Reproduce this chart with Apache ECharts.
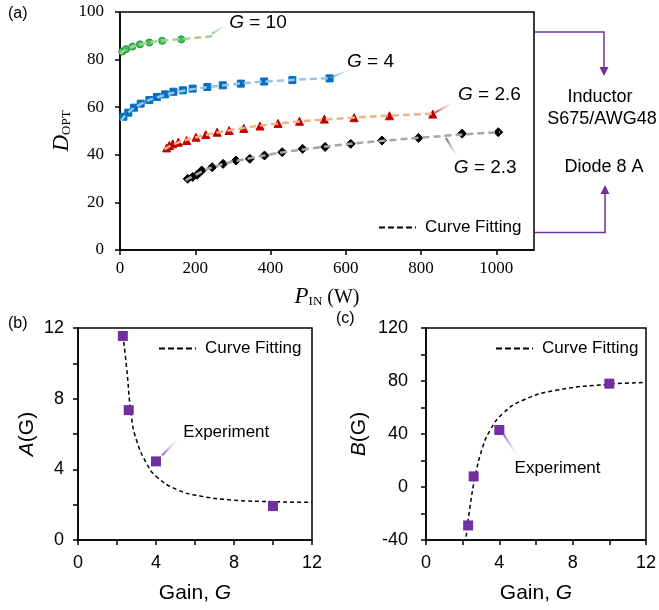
<!DOCTYPE html>
<html>
<head>
<meta charset="utf-8">
<script src="https://cdn.jsdelivr.net/npm/echarts@6/dist/echarts.min.js"></script>
<style>
html, body { margin: 0; padding: 0; background: #fff; }
#chart { width: 659px; height: 610px; }
</style>
</head>
<body>
<div id="chart"></div>
<script>
// (a) measured points [P_IN (W), D_OPT]
const g10Points = [[6, 83.4], [16, 84.4], [33, 85.5], [53, 86.4], [78, 87.2], [112, 87.9], [163, 88.5]];
const g4Points = [[9, 56.0], [22, 57.7], [37, 59.8], [55, 61.5], [78, 63.0], [98, 64.3], [120, 65.4], [142, 66.5],
  [167, 67.1], [193, 67.8], [232, 68.5], [273, 69.2], [321, 69.9], [383, 70.8], [458, 71.4], [557, 72.1]];
const g26Points = [[124, 42.9], [131, 43.9], [140, 44.6], [155, 45.3], [177, 46.0], [202, 47.4], [228, 48.5], [258, 49.5],
  [290, 50.2], [329, 51.1], [372, 52.1], [420, 53.2], [477, 54.1], [543, 55.0], [622, 55.6], [716, 56.4], [831, 57.1]];
const g23Points = [[180, 29.9], [193, 30.7], [205, 31.6], [217, 33.4], [245, 34.8], [274, 36.2], [308, 37.6], [345, 38.3],
  [384, 39.7], [431, 41.1], [485, 42.5], [545, 43.3], [613, 44.6], [696, 46.0], [793, 47.1], [909, 48.9], [1005, 49.5]];

// (a) fitted curves
const g10Fit = [[0, 82.5], [20, 84.6], [60, 86.6], [110, 87.9], [165, 88.6], [245, 89.8]];
const g4Fit = [[3, 54.2], [20, 57.5], [55, 61.3], [100, 64.2], [170, 66.9], [270, 69.1], [400, 70.9], [557, 72.2]];
const g26Fit = [[118, 42.4], [150, 44.9], [200, 47.3], [300, 50.5], [420, 53.1], [600, 55.4], [835, 57.3]];
const g23Fit = [[175, 29.3], [200, 31.5], [250, 35], [350, 38.7], [500, 42.5], [700, 45.9], [1010, 49.6]];

// (a) callouts
const gainLabels = ['10', '4', '2.6', '2.3'];
const gainLabelAt = [[290, 95.4], [603, 79.3], [898, 65.4], [887, 34.5]];
const gainLeaders = [[[244, 90.8], [279, 94.4]], [[557, 72.2], [611, 75.9]], [[837, 57.7], [881, 61.6]], [[866, 47.1], [895, 39.4]]];

// (b), (c)
const gains = [2.3, 2.6, 4, 10];
const aValues = [11.55, 7.35, 4.45, 1.92];
const bValues = [-29, 8, 43, 78];
const aFit = [[2.3, 11.6], [2.49, 9.8], [2.74, 6.97], [3.0, 5.65], [3.52, 4.33], [4.03, 3.58], [5.06, 2.86],
  [6.26, 2.49], [7.97, 2.26], [10, 2.17], [12, 2.13]];
const bFit = [[2.19, -37.5], [2.4, -14.9], [2.68, 7.7], [3.04, 27.8], [3.5, 42.9], [4.2, 55.5], [5.29, 65.5],
  [7.1, 73], [10.03, 77.6], [12, 78.8]];
const aExpLabel = [5.4, 6.07];
const aExpLeader = [[4.32, 4.8], [5.06, 5.65]];
const bExpLabel = [4.83, 14.0];
const bExpLeader = [[4.2, 40.4], [4.93, 24.8]];

const SERIF = 'Liberation Serif';
const SANS = 'Liberation Sans';
const PURPLE = '#7030a0';

const chart = echarts.init(document.getElementById('chart'));

function fade(color, dir) {
  // dir: 'up' = strong at lower-left, 'down' = strong at upper-left
  const c = dir === 'up' ? [0, 1, 1, 0] : [0, 0, 1, 1];
  return new echarts.graphic.LinearGradient(c[0], c[1], c[2], c[3], [
    { offset: 0, color: color },
    { offset: 1, color: 'rgba(255,255,255,0.2)' }
  ]);
}

function leader(idx, pts, color, dir) {
  return {
    type: 'line', xAxisIndex: idx, yAxisIndex: idx, data: pts, symbol: 'none', silent: true,
    lineStyle: { width: 2, color: fade(color, dir) }, z: 4
  };
}

function textAnchor(idx, pos, text, size) {
  return {
    type: 'scatter', xAxisIndex: idx, yAxisIndex: idx, symbolSize: 0, silent: true,
    data: [{ value: pos, name: text }],
    itemStyle: { opacity: 1 },
    label: {
      show: true, position: 'right', distance: 0, formatter: '{b}', color: '#000', opacity: 1,
      fontFamily: SANS, fontSize: size,
      rich: { i: { fontFamily: SANS, fontSize: size, fontStyle: 'italic', color: '#000' } }
    }
  };
}

const pointSets = [g10Points, g4Points, g26Points, g23Points];
const fitSets = [g10Fit, g4Fit, g26Fit, g23Fit];
const markStyle = [
  { symbol: 'circle', size: 7, color: '#4cbb5c', border: '#0c9a36' },
  { symbol: 'rect', size: 7, color: '#0070c0', border: '#0070c0' },
  { symbol: 'triangle', size: 8, color: '#c00000', border: '#c00000' },
  { symbol: 'diamond', size: 9, color: '#000', border: '#000' }
];
const fitColors = ['#a9d18e', '#9dc3e6', '#f4b183', '#a6a6a6'];
const leaderColors = ['#5cb85c', '#2e75b6', '#c00000', '#404040'];

const series = [];
pointSets.forEach((pts, i) => {
  const m = markStyle[i];
  series.push({
    type: 'scatter', xAxisIndex: 0, yAxisIndex: 0, data: pts, symbol: m.symbol, symbolSize: m.size,
    itemStyle: { color: m.color, borderColor: m.border, borderWidth: 1, opacity: 1 }, z: 2
  });
});
fitSets.forEach((pts, i) => {
  series.push({
    type: 'line', xAxisIndex: 0, yAxisIndex: 0, data: pts, smooth: 0.5, symbol: 'none',
    lineStyle: { color: fitColors[i], width: 2.5, type: [7, 4] }, z: 3, silent: true
  });
});
gainLeaders.forEach((pts, i) => {
  series.push(leader(0, pts, leaderColors[i], i === 3 ? 'down' : 'up'));
  series.push(textAnchor(0, gainLabelAt[i], '{i|G} = ' + gainLabels[i], 19));
});
// legend entry for (a)
series.push({
  type: 'line', name: 'Curve Fitting', xAxisIndex: 0, yAxisIndex: 0, data: [], symbol: 'none',
  lineStyle: { color: '#000', width: 2, type: [6, 3] }
});

// (b)
series.push({
  type: 'line', name: 'Curve Fitting', xAxisIndex: 1, yAxisIndex: 1, data: aFit, smooth: 0.5,
  symbol: 'none', lineStyle: { color: '#000', width: 1.5, type: [4, 3] }, z: 2
});
series.push({
  type: 'scatter', xAxisIndex: 1, yAxisIndex: 1, data: gains.map((g, i) => [g, aValues[i]]),
  symbol: 'rect', symbolSize: 10, itemStyle: { color: PURPLE, opacity: 1 }, z: 3
});
series.push(leader(1, aExpLeader, PURPLE, 'up'));
series.push(textAnchor(1, aExpLabel, 'Experiment', 17));

// (c)
series.push({
  type: 'line', name: 'Curve Fitting', xAxisIndex: 2, yAxisIndex: 2, data: bFit, smooth: 0.5,
  symbol: 'none', lineStyle: { color: '#000', width: 1.5, type: [4, 3] }, z: 2
});
series.push({
  type: 'scatter', xAxisIndex: 2, yAxisIndex: 2, data: gains.map((g, i) => [g, bValues[i]]),
  symbol: 'rect', symbolSize: 10, itemStyle: { color: PURPLE, opacity: 1 }, z: 3
});
series.push(leader(2, bExpLeader, PURPLE, 'down'));
series.push(textAnchor(2, bExpLabel, 'Experiment', 17));

const axisLine = { show: true, onZero: false, lineStyle: { color: '#000', width: 1.5 } };
const tick = { show: true, length: 5, lineStyle: { color: '#000', width: 1.5 } };
const minor = { show: true, splitNumber: 2, length: 5, lineStyle: { color: '#000', width: 1.5 } };
const plain = v => String(v);
const serifLabel = { color: '#000', fontFamily: SERIF, fontSize: 17, formatter: plain };
const sansLabel = { color: '#000', fontFamily: SANS, fontSize: 18, formatter: plain };
const gainName = {
  name: 'Gain, {i|G}', nameLocation: 'middle', nameGap: 43,
  nameTextStyle: { color: '#000', fontFamily: SANS, fontSize: 21, rich: { i: { fontFamily: SANS, fontSize: 21, fontStyle: 'italic', color: '#000' } } }
};
const subRich = {
  i: { fontFamily: SERIF, fontStyle: 'italic', fontSize: 23, lineHeight: 26, verticalAlign: 'bottom', color: '#000' },
  s: { fontFamily: SERIF, fontSize: 13, lineHeight: 14, verticalAlign: 'bottom', color: '#000' },
  n: { fontFamily: SERIF, fontSize: 20, lineHeight: 26, verticalAlign: 'bottom', color: '#000' }
};

const option = {
  backgroundColor: '#fff',
  animation: false,
  grid: [
    { left: 120, right: 125, top: 12, bottom: 360, show: true, borderColor: '#000', borderWidth: 1.5 },
    { left: 78, right: 347, top: 328, bottom: 70, show: true, borderColor: '#000', borderWidth: 1.5 },
    { left: 426, right: 12, top: 328, bottom: 70, show: true, borderColor: '#000', borderWidth: 1.5 }
  ],
  xAxis: [
    {
      gridIndex: 0, type: 'value', min: 0, max: 1100, interval: 200,
      axisLine, axisTick: tick, splitLine: { show: false },
      axisLabel: Object.assign({ margin: 10, showMaxLabel: false }, serifLabel),
      name: '{i|P}{s|IN}{n| (W)}', nameLocation: 'middle', nameGap: 32,
      nameTextStyle: { rich: subRich }
    },
    Object.assign({
      gridIndex: 1, type: 'value', min: 0, max: 12, interval: 4,
      axisLine, axisTick: tick, minorTick: minor, splitLine: { show: false },
      axisLabel: Object.assign({ margin: 14 }, sansLabel)
    }, gainName),
    Object.assign({
      gridIndex: 2, type: 'value', min: 0, max: 12, interval: 4,
      axisLine, axisTick: tick, minorTick: minor, splitLine: { show: false },
      axisLabel: Object.assign({ margin: 14 }, sansLabel)
    }, gainName)
  ],
  yAxis: [
    {
      gridIndex: 0, type: 'value', min: 0, max: 100, interval: 20,
      axisLine, axisTick: tick, splitLine: { show: false },
      axisLabel: Object.assign({ margin: 16 }, serifLabel),
      name: '{i|D}{s|OPT}', nameLocation: 'middle', nameGap: 47, nameRotate: 90, nameMoveOverlap: false,
      nameTextStyle: { rich: subRich }
    },
    {
      gridIndex: 1, type: 'value', min: 0, max: 12, interval: 4,
      axisLine, axisTick: tick, minorTick: minor, splitLine: { show: false },
      axisLabel: Object.assign({ margin: 14 }, sansLabel),
      name: '{i|A}(G)', nameLocation: 'middle', nameGap: 40, nameRotate: 90,
      nameTextStyle: { color: '#000', fontFamily: SANS, fontSize: 21, rich: { i: { fontFamily: SANS, fontSize: 21, fontStyle: 'italic', color: '#000' } } }
    },
    {
      gridIndex: 2, type: 'value', min: -40, max: 120, interval: 40,
      axisLine, axisTick: tick, minorTick: minor, splitLine: { show: false },
      axisLabel: Object.assign({ margin: 18 }, sansLabel),
      name: '{i|B}(G)', nameLocation: 'middle', nameGap: 56, nameRotate: 90,
      nameTextStyle: { color: '#000', fontFamily: SANS, fontSize: 21, rich: { i: { fontFamily: SANS, fontSize: 21, fontStyle: 'italic', color: '#000' } } }
    }
  ],
  legend: [
    { left: 378, top: 219 }, { left: 158, top: 340 }, { left: 495, top: 340 }
  ].map(p => ({
    left: p.left, top: p.top, padding: 0, orient: 'horizontal', data: ['Curve Fitting'],
    itemWidth: 37, itemHeight: 14, selectedMode: false,
    itemStyle: { opacity: 0 },
    lineStyle: { color: '#000', width: 2, type: [6, 3] },
    textStyle: { color: '#000', fontFamily: SANS, fontSize: 17, padding: [0, 0, 0, 4] }
  })),
  graphic: [
    { type: 'text', left: 8, top: 6, style: { text: '(a)', font: '16px Liberation Sans', fill: '#000' } },
    { type: 'text', left: 8, top: 316, style: { text: '(b)', font: '16px Liberation Sans', fill: '#000' } },
    { type: 'text', left: 336, top: 311, style: { text: '(c)', font: '16px Liberation Sans', fill: '#000' } },
    { type: 'text', x: 600, y: 97, style: { text: 'Inductor', font: '18px Liberation Sans', fill: '#000', align: 'center', verticalAlign: 'middle' } },
    { type: 'text', x: 602, y: 119, style: { text: 'S675/AWG48', font: '18px Liberation Sans', fill: '#000', align: 'center', verticalAlign: 'middle' } },
    { type: 'text', x: 604, y: 167, style: { text: 'Diode 8 A', font: '18px Liberation Sans', fill: '#000', align: 'center', verticalAlign: 'middle' } },
    { type: 'polyline', shape: { points: [[535, 32], [604, 32], [604, 68]] }, style: { stroke: PURPLE, lineWidth: 1.5, fill: null } },
    { type: 'polygon', shape: { points: [[599.5, 67], [608.5, 67], [604, 76]] }, style: { fill: PURPLE } },
    { type: 'polyline', shape: { points: [[535, 232.5], [605, 232.5], [605, 193]] }, style: { stroke: PURPLE, lineWidth: 1.5, fill: null } },
    { type: 'polygon', shape: { points: [[600.5, 194], [609.5, 194], [605, 185]] }, style: { fill: PURPLE } }
  ],
  series
};

chart.setOption(option);
window.addEventListener('resize', () => chart.resize());
</script>
</body>
</html>
